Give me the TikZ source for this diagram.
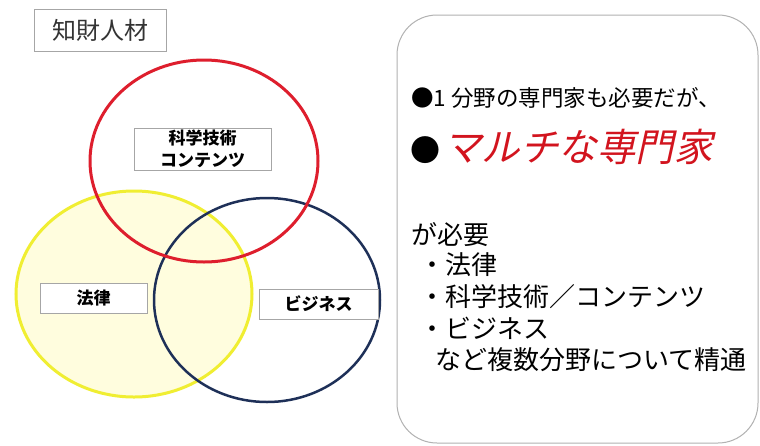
\documentclass[tikz,border=0pt]{standalone}
\usepackage{fontspec}
\setmainfont{Noto Sans CJK JP}
\newfontfamily\jp{Noto Sans CJK JP}
\newfontfamily\jpsl[FakeSlant=0.22]{Noto Sans CJK JP}
\definecolor{cred}{RGB}{222,30,45}
\definecolor{cyel}{RGB}{240,238,50}
\definecolor{cyelfill}{RGB}{255,253,222}
\definecolor{cnavy}{RGB}{30,48,88}
\definecolor{ctext}{RGB}{210,20,30}
\tikzset{
  labelbox/.style={draw=gray!70, line width=1pt, fill=white, inner sep=0pt, align=center, font=\jp\bfseries\fontsize{17}{22}\selectfont},
  bodytext/.style={anchor=west, inner sep=0pt, font=\jp\fontsize{26}{30}\selectfont}
}
\begin{document}
\begin{tikzpicture}[x=1pt,y=-1pt]
\useasboundingbox (0,0) rectangle (760,445);
\fill[white] (0,0) rectangle (760,445);
% title
\node[draw=gray!70, line width=1pt, minimum width=132pt, minimum height=42pt, inner sep=0pt, font=\jp\fontsize{24}{28}\selectfont, text=black!80] (title) at (100,30) {知財人材};
% ellipses
\fill[cyelfill] (134,294) ellipse [x radius=118, y radius=103];
\draw[cyel, line width=3pt] (134,294) ellipse [x radius=118, y radius=103];
\draw[cnavy, line width=2.5pt] (267,300) ellipse [x radius=113, y radius=102];
\draw[cred, line width=3pt] (204,161) ellipse [x radius=114, y radius=101];
% labels
\node[labelbox, minimum width=137pt, minimum height=42pt] (sci) at (202.5,149) {科学技術\\コンテンツ};
\node[labelbox, minimum width=107pt, minimum height=30pt] (law) at (93.5,298) {法律};
\node[labelbox, minimum width=119pt, minimum height=30pt] (biz) at (318.5,304) {ビジネス};
% right box
\draw[gray!60, line width=1pt, rounded corners=40pt] (397,15) rectangle (758,443);
\node[anchor=west, inner sep=0pt, font=\jp\fontsize{22.5}{24}\selectfont] (l1) at (411,98) {●1\hspace{5pt}分野の専門家も必要だが、};
\node[anchor=west, inner sep=0pt, font=\jp\fontsize{30}{34}\selectfont] (b2) at (410,150) {●};
\node[anchor=west, inner sep=0pt, text=ctext, font=\jpsl\fontsize{38.5}{40}\selectfont] (l2) at (443,147) {マルチな専門家};
\node[bodytext] (l3) at (411,235) {が必要};
\node[bodytext] (l4) at (419,265) {・法律};
\node[bodytext] (l5) at (419,297) {・科学技術／コンテンツ};
\node[bodytext] (l6) at (419,328) {・ビジネス};
\node[bodytext] (l7) at (435,360) {など複数分野について精通};
\end{tikzpicture}
\end{document}
